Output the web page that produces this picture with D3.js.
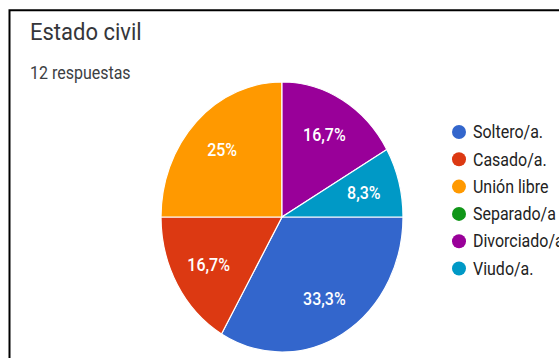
<!DOCTYPE html>
<html>
<head>
<meta charset="utf-8">
<script src="https://cdn.jsdelivr.net/npm/d3@7"></script>
<style>
  html, body { margin: 0; padding: 0; background: #fff; }
  svg { display: block; font-family: Roboto, "Liberation Sans", Arial, sans-serif; }
</style>
</head>
<body>
<svg id="chart" width="559" height="358"></svg>
<script>
// Survey question: marital status, 12 responses
const title = "Estado civil";
const subtitle = "12 respuestas";
const categories = ["Soltero/a.", "Casado/a.", "Unión libre", "Separado/a", "Divorciado/a", "Viudo/a."];
const counts = [4, 2, 3, 0, 2, 1];
const percentLabels = ["33,3%", "16,7%", "25%", "0%", "16,7%", "8,3%"];
const colors = ["#3366cc", "#dc3912", "#ff9900", "#109618", "#990099", "#0099c6"];

const svg = d3.select("#chart");
const W = 559, H = 358;
const stretch = 1.1; // text is drawn slightly taller than wide

// card frame (top and left edges visible)
svg.append("path")
  .attr("d", `M9.5,${H} L9.5,10.3 L${W},10.3`)
  .attr("fill", "none")
  .attr("stroke", "#000")
  .attr("stroke-width", 2);

svg.append("text")
  .attr("transform", `translate(30,40) scale(1,${stretch})`)
  .attr("font-size", 22)
  .attr("fill", "#35363a")
  .text(title);

svg.append("text")
  .attr("transform", `translate(30,79) scale(1,${stretch})`)
  .attr("font-size", 16)
  .attr("fill", "#3c4043")
  .text(subtitle);

// pie (slightly taller than wide)
const cx = 282, cy = 217, r = 121, ry = 135;
const data = categories.map((c, i) => ({ name: c, value: counts[i], label: percentLabels[i], color: colors[i] }));

const pie = d3.pie()
  .value(d => d.value)
  .sort(null)
  .startAngle(Math.PI / 2)
  .endAngle(Math.PI / 2 + 2 * Math.PI);

const arcs = pie(data).filter(a => a.data.value > 0);
const arc = d3.arc().innerRadius(0).outerRadius(r);
const labelArc = d3.arc().innerRadius(r * 0.7).outerRadius(r * 0.7);

const g = svg.append("g")
  .attr("transform", `translate(${cx},${cy}) scale(1,${ry / r})`);

g.selectAll("path.slice")
  .data(arcs)
  .join("path")
  .attr("class", "slice")
  .attr("d", arc)
  .attr("fill", d => d.data.color)
  .attr("stroke", "#fff")
  .attr("stroke-width", 1.2)
  .attr("vector-effect", "non-scaling-stroke");

const lg = svg.append("g").attr("transform", `translate(${cx},${cy})`);
lg.selectAll("text")
  .data(arcs)
  .join("text")
  .attr("transform", d => {
    const [x, y] = labelArc.centroid(d);
    return `translate(${x},${y * ry / r}) scale(1,${stretch})`;
  })
  .attr("text-anchor", "middle")
  .attr("dominant-baseline", "central")
  .attr("font-size", 16)
  .attr("font-weight", 500)
  .attr("fill", "#fff")
  .text(d => d.data.label);

// legend
const legend = svg.append("g").attr("transform", "translate(459,132)");
const rowH = 27.3;
const item = legend.selectAll("g")
  .data(data)
  .join("g")
  .attr("transform", (d, i) => `translate(0,${i * rowH})`);
item.append("circle")
  .attr("r", 7)
  .attr("fill", d => d.color);
item.append("text")
  .attr("transform", `translate(14,0) scale(1,${stretch})`)
  .attr("dominant-baseline", "central")
  .attr("font-size", 16)
  .attr("fill", "#222")
  .text(d => d.name);
</script>
</body>
</html>
